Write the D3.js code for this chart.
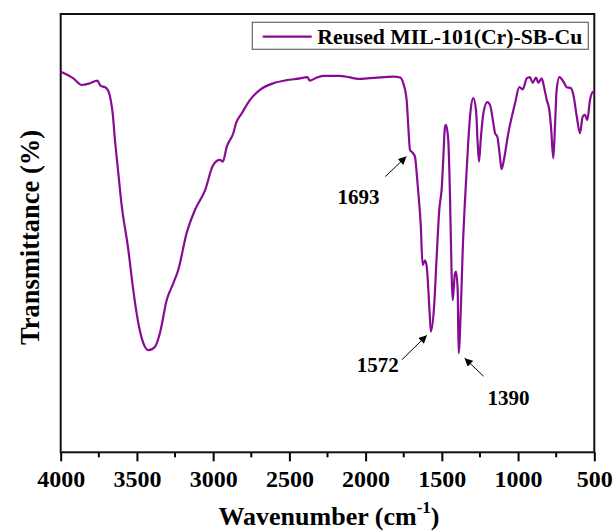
<!doctype html>
<html lang="en">
  <head>
    <meta charset="utf-8">
    <title>FTIR spectrum</title>
    <script src="https://d3js.org/d3.v7.min.js"></script>
    <style>
      body {
        margin: 0;
        background: #fff;
      }
      svg text {
        font-family: 'Liberation Serif', 'Times New Roman', serif !important;
        font-weight: bold;
      }
    </style>
  </head>
  <body>
    <div id="root"></div>
  </body>
  <script>

    //data:
    const wavenumber = [4000, 3917, 3862, 3808, 3760, 3738, 3709, 3688, 3672, 3659, 3644, 3622, 3604,
      3556, 3524, 3491, 3458, 3425, 3381, 3349, 3305, 3261, 3229, 3174, 3119, 3053, 2999, 2955, 2937,
      2911, 2868, 2850, 2813, 2758, 2693, 2605, 2518, 2430, 2383, 2365, 2332, 2278, 2168, 2037, 1927,
      1818, 1774, 1753, 1731, 1720, 1709, 1693, 1676, 1665, 1654, 1639, 1626, 1610, 1599, 1580, 1572,
      1551, 1534, 1517, 1500, 1491, 1479, 1473, 1458, 1447, 1436, 1429, 1414, 1407, 1396, 1390, 1375,
      1363, 1348, 1326, 1311, 1294, 1276, 1265, 1256, 1245, 1228, 1202, 1184, 1162, 1151, 1136, 1119,
      1108, 1093, 1064, 1020, 992, 970, 943, 922, 904, 882, 867, 845, 830, 812, 795, 784, 769, 758,
      747, 729, 703, 681, 655, 637, 615, 594, 576, 561, 546, 528, 506, 500];
    const transmittance = [86.8, 85.3, 83.8, 84.2, 84.8, 83.6, 83.3, 82.5, 80.4, 77.3, 71.2, 63.7, 57.5,
      46.1, 37.0, 29.5, 24.9, 23.3, 24.1, 27.2, 34.7, 38.6, 41.6, 50.0, 55.3, 59.8, 65.6, 66.7, 66.3,
      69.7, 72.8, 75.1, 77.3, 80.4, 82.7, 84.2, 84.9, 85.3, 85.6, 84.8, 85.3, 85.9, 85.9, 85.2, 85.5,
      85.7, 85.5, 84.2, 80.4, 74.3, 69.0, 68.4, 67.4, 63.7, 59.1, 52.3, 42.7, 43.8, 42.3, 31.8, 27.5,
      33.2, 44.6, 55.3, 60.6, 66.7, 74.3, 74.7, 71.3, 59.2, 40.9, 34.7, 40.8, 41.2, 37.0, 22.6, 33.2,
      46.2, 57.6, 71.3, 78.1, 80.8, 78.1, 70.5, 66.3, 71.3, 77.3, 79.9, 79.2, 75.1, 72.8, 72.0, 67.4,
      64.6, 66.7, 72.8, 79.6, 83.3, 82.8, 85.3, 85.6, 84.3, 85.5, 84.3, 85.3, 83.4, 80.4, 78.1, 74.3, 67.1, 74.3,
      82.7, 85.6, 84.6, 83.3, 83.1, 81.5, 76.6, 72.8, 76.6, 77.0, 75.8, 80.4, 82.3, 82.2];
    const xTicks = [4000, 3500, 3000, 2500, 2000, 1500, 1000, 500];
    const xMinorTicks = [3750, 3250, 2750, 2250, 1750, 1250, 750];
    const seriesName = "Reused MIL-101(Cr)-SB-Cu";
    const peakLabels = ["1693", "1572", "1390"];
    const peakValues = [68.4, 27.5, 22.6];

    //constants:
    const width = 615;
    const height = 532;
    const margin = {top: 14, right: 20.7, bottom: 79.7, left: 60.7};
    const purple = "#870c93";
    const serif = "'Liberation Serif', 'Times New Roman', serif";

    const svg = d3.select("#root")
      .append("svg")
      .attr("width", width)
      .attr("height", height)
      .attr("font-family", serif);

    const x = d3.scaleLinear()
      .domain([4000, 500])
      .range([margin.left, width - margin.right]);
    const y = d3.scaleLinear()
      .domain([0, 100])
      .range([height - margin.bottom, margin.top]);

    //axis:
    const xAxis = svg.append("g")
      .attr("transform", `translate(0,${height - margin.bottom})`)
      .call(d3.axisBottom(x).tickValues(xTicks).tickSize(9).tickFormat(d3.format("d")))
      .attr("font-family", serif);
    xAxis.select(".domain").remove();
    xAxis.selectAll(".tick line").attr("stroke", "#000").attr("stroke-width", 2);
    xAxis.selectAll(".tick text")
      .attr("y", 34.7)
      .attr("dy", 0)
      .attr("font-size", "24px")
      .attr("font-weight", "bold")
      .attr("fill", "#000");

    svg.append("g")
      .selectAll("line")
      .data(xMinorTicks)
      .enter()
      .append("line")
      .attr("x1", d => x(d))
      .attr("x2", d => x(d))
      .attr("y1", height - margin.bottom)
      .attr("y2", height - margin.bottom + 5)
      .attr("stroke", "#000")
      .attr("stroke-width", 2);

    //frame:
    svg.append("rect")
      .attr("x", margin.left)
      .attr("y", margin.top)
      .attr("width", width - margin.left - margin.right)
      .attr("height", height - margin.top - margin.bottom)
      .attr("fill", "none")
      .attr("stroke", "#111")
      .attr("stroke-width", 2);

    //spectrum:
    const points = wavenumber.map((w, i) => [w, transmittance[i]]);
    const line = d3.line()
      .x(d => x(d[0]))
      .y(d => y(d[1]))
      .curve(d3.curveMonotoneX);

    svg.append("path")
      .datum(points)
      .attr("d", line)
      .attr("fill", "none")
      .attr("stroke", purple)
      .attr("stroke-width", 2.2)
      .attr("stroke-linejoin", "round");

    //legend:
    svg.append("rect")
      .attr("x", 252.3)
      .attr("y", 22.3)
      .attr("width", 336)
      .attr("height", 27)
      .attr("fill", "#fff")
      .attr("stroke", "#666")
      .attr("stroke-width", 1.2);
    svg.append("line")
      .attr("x1", 262.7)
      .attr("x2", 311.7)
      .attr("y1", 36.7)
      .attr("y2", 36.7)
      .attr("stroke", purple)
      .attr("stroke-width", 2.2);
    svg.append("text")
      .attr("x", 317.3)
      .attr("y", 44.3)
      .attr("font-size", "22px")
      .attr("textLength", 265)
      .attr("lengthAdjust", "spacingAndGlyphs")
      .text(seriesName);

    //peak annotations:
    svg.append("defs")
      .append("marker")
      .attr("id", "head")
      .attr("viewBox", "0 0 10 10")
      .attr("refX", 10)
      .attr("refY", 5)
      .attr("markerWidth", 10)
      .attr("markerHeight", 8)
      .attr("markerUnits", "userSpaceOnUse")
      .attr("orient", "auto")
      .append("path")
      .attr("d", "M0,0L10,5L0,10z")
      .attr("fill", "#000");

    const offsets = [
      {tip: [-6, 4], tail: [-27, 24], label: [-54, 51]},
      {tip: [-4, 3.5], tail: [-29, 28], label: [-53, 40]},
      {tip: [6, 5], tail: [25, 23], label: [50, 52]}
    ];

    peakLabels.forEach((lab, i) => {
      const px = x(+lab);
      const py = y(peakValues[i]);
      const o = offsets[i];
      svg.append("line")
        .attr("x1", px + o.tail[0])
        .attr("y1", py + o.tail[1])
        .attr("x2", px + o.tip[0])
        .attr("y2", py + o.tip[1])
        .attr("stroke", "#000")
        .attr("stroke-width", 1)
        .attr("marker-end", "url(#head)");
      svg.append("text")
        .attr("x", px + o.label[0])
        .attr("y", py + o.label[1])
        .attr("text-anchor", "middle")
        .attr("font-size", "21px")
        .text(lab);
    });

    //axis titles:
    const xTitle = svg.append("text")
      .attr("x", 329)
      .attr("y", 525)
      .attr("text-anchor", "middle")
      .attr("font-size", "26px");
    xTitle.append("tspan").text("Wavenumber (cm");
    xTitle.append("tspan").attr("font-size", "17px").attr("dy", -12).text("-1");
    xTitle.append("tspan").attr("dy", 12).text(")");

    svg.append("text")
      .attr("transform", "translate(38.5,237.5) rotate(-90)")
      .attr("text-anchor", "middle")
      .attr("font-size", "26.5px")
      .text("Transmittance (%)");

  </script>
</html>
